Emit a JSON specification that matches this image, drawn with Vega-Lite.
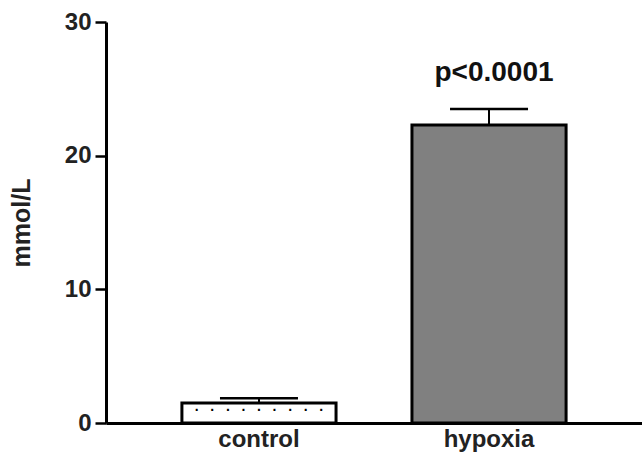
{
  "$schema": "https://vega.github.io/schema/vega-lite/v6.json",
  "autosize": {"type": "none"},
  "width": 536,
  "height": 401,
  "padding": {"left": 106, "top": 22, "right": 0, "bottom": 33},
  "background": "white",
  "config": {
    "view": {"stroke": null},
    "font": "Liberation Sans"
  },
  "data": {
    "values": [
      {"group": "control", "value": 1.5, "upper": 1.85, "label": ""},
      {"group": "hypoxia", "value": 22.3, "upper": 23.5, "label": "p<0.0001"}
    ]
  },
  "encoding": {
    "x": {
      "field": "group",
      "type": "nominal",
      "sort": ["control", "hypoxia"],
      "scale": {"paddingInner": 0.33, "paddingOuter": 0.33},
      "axis": {
        "title": null,
        "labelAngle": 0,
        "ticks": false,
        "domainColor": "black",
        "domainWidth": 3,
        "labelFont": "Liberation Sans",
        "labelFontWeight": "bold",
        "labelFontSize": 24,
        "labelColor": "#222222",
        "labelPadding": 4
      }
    }
  },
  "layer": [
    {
      "mark": {"type": "bar", "stroke": "black", "strokeWidth": 3},
      "encoding": {
        "y": {
          "field": "value",
          "type": "quantitative",
          "scale": {"domain": [0, 30], "nice": false},
          "axis": {
            "title": "mmol/L",
            "values": [0, 10, 20, 30],
            "grid": false,
            "tickSize": 11,
            "tickWidth": 2.5,
            "tickColor": "black",
            "domainColor": "black",
            "domainWidth": 3,
            "labelFont": "Liberation Sans",
            "labelFontWeight": "bold",
            "labelFontSize": 24,
            "labelColor": "#222222",
            "labelPadding": 4,
            "titleFont": "Liberation Sans",
            "titleFontWeight": "bold",
            "titleFontSize": 25,
            "titleColor": "#222222",
            "titlePadding": 30
          }
        },
        "fill": {
          "field": "group",
          "type": "nominal",
          "scale": {"domain": ["control", "hypoxia"], "range": ["white", "#808080"]},
          "legend": null
        }
      }
    },
    {
      "transform": [{"filter": "datum.group === 'control'"}],
      "mark": {"type": "text", "font": "Liberation Sans", "fontSize": 14, "fontWeight": "bold", "baseline": "alphabetic", "align": "center", "dy": 8, "color": "black"},
      "encoding": {
        "y": {"field": "value", "type": "quantitative"},
        "text": {"value": ".\u00a0\u00a0\u00a0.\u00a0\u00a0\u00a0.\u00a0\u00a0\u00a0.\u00a0\u00a0\u00a0.\u00a0\u00a0\u00a0.\u00a0\u00a0\u00a0.\u00a0\u00a0\u00a0.\u00a0\u00a0\u00a0."}
      }
    },
    {
      "mark": {"type": "rule", "color": "black", "strokeWidth": 2},
      "encoding": {
        "y": {"field": "value", "type": "quantitative"},
        "y2": {"field": "upper"}
      }
    },
    {
      "mark": {"type": "tick", "color": "black", "opacity": 1, "thickness": 2.5, "size": 78, "orient": "horizontal"},
      "encoding": {
        "y": {"field": "upper", "type": "quantitative"}
      }
    },
    {
      "mark": {"type": "text", "font": "Liberation Sans", "fontSize": 28, "fontWeight": "bold", "color": "#111111", "baseline": "alphabetic", "dy": -28, "dx": 5},
      "encoding": {
        "y": {"field": "upper", "type": "quantitative"},
        "text": {"field": "label"}
      }
    }
  ]
}
